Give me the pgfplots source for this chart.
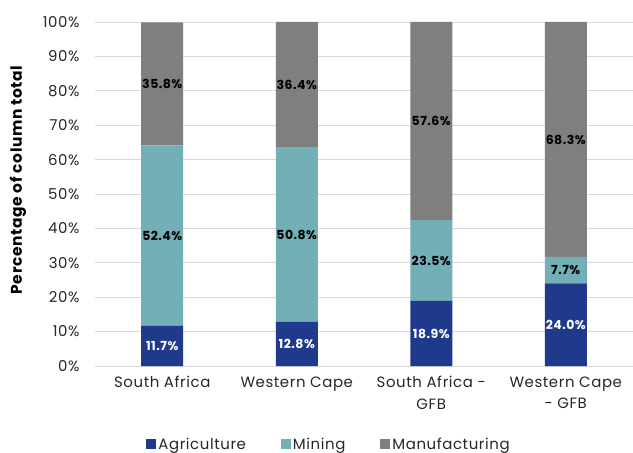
\documentclass[border=0pt]{standalone}
\usepackage{pgfplots}
\pgfplotsset{compat=1.18}
\usepackage{fontspec}
\setmainfont{Poppins}[LetterSpace=4]

\definecolor{agri}{HTML}{1F3A8C}
\definecolor{mine}{HTML}{72AFB6}
\definecolor{manu}{HTML}{7F7F7F}
\definecolor{gridc}{HTML}{D9D9D9}
\definecolor{txt}{HTML}{262626}

\begin{document}
\begin{tikzpicture}
\begin{axis}[
  ybar stacked,
  scale only axis,
  width=538bp, height=344bp,
  xmin=-0.5, xmax=3.5,
  ymin=0, ymax=100,
  enlarge y limits=false,
  bar width=42bp,
  xtick={0,1,2,3},
  xticklabels={South Africa, Western Cape, {South Africa -\\GFB}, {Western Cape\\- GFB}},
  xticklabel style={align=center, font=\fontsize{15}{22}\selectfont, text=txt, yshift=-7bp},
  ytick={0,10,...,100},
  yticklabel={\pgfmathprintnumber{\tick}\%},
  yticklabel style={font=\fontsize{15}{17}\selectfont, text=txt, xshift=-12bp},
  /pgf/number format/assume math mode=true,
  major tick length=0pt,
  ymajorgrids,
  major grid style={gridc, line width=0.8bp},
  axis line style={draw=none},
  ylabel={Percentage of column total},
  every axis y label/.style={at={(rel axis cs:-0.143,0.541)}, rotate=90, anchor=center,
    font=\bfseries\fontsize{15.5}{17}\selectfont, text=black},
  legend columns=3,
  legend style={at={(rel axis cs:0.435,-0.228)}, anchor=center, draw=none, fill=none,
    font=\fontsize{15}{17}\selectfont, text=txt,
    /tikz/every even column/.append style={column sep=33bp}},
  legend image code/.code={\fill[#1,draw=none] (0bp,-5bp) rectangle (10bp,5bp);},
  point meta=explicit,
  nodes near coords={\pgfmathprintnumber[fixed,fixed zerofill,precision=1]{\pgfplotspointmeta}\%},
  every node near coord/.append style={anchor=center,
    font=\bfseries\fontsize{12.5}{14}\selectfont},
]
\addplot[fill=agri, draw=none, every node near coord/.append style={text=white}]
  coordinates {(0,11.7) [11.7] (1,12.8) [12.8] (2,18.9) [18.9] (3,24.0) [24.0]};
\addplot[fill=mine, draw=none, every node near coord/.append style={text=black}]
  coordinates {(0,52.4) [52.4] (1,50.8) [50.8] (2,23.5) [23.5] (3,7.7) [7.7]};
\addplot[fill=manu, draw=none, every node near coord/.append style={text=black}]
  coordinates {(0,35.8) [35.8] (1,36.4) [36.4] (2,57.6) [57.6] (3,68.3) [68.3]};
\legend{Agriculture, Mining, Manufacturing}
\end{axis}
\pgfresetboundingbox
\useasboundingbox (-95bp,-87bp) rectangle (538bp,366bp);
\end{tikzpicture}
\end{document}
